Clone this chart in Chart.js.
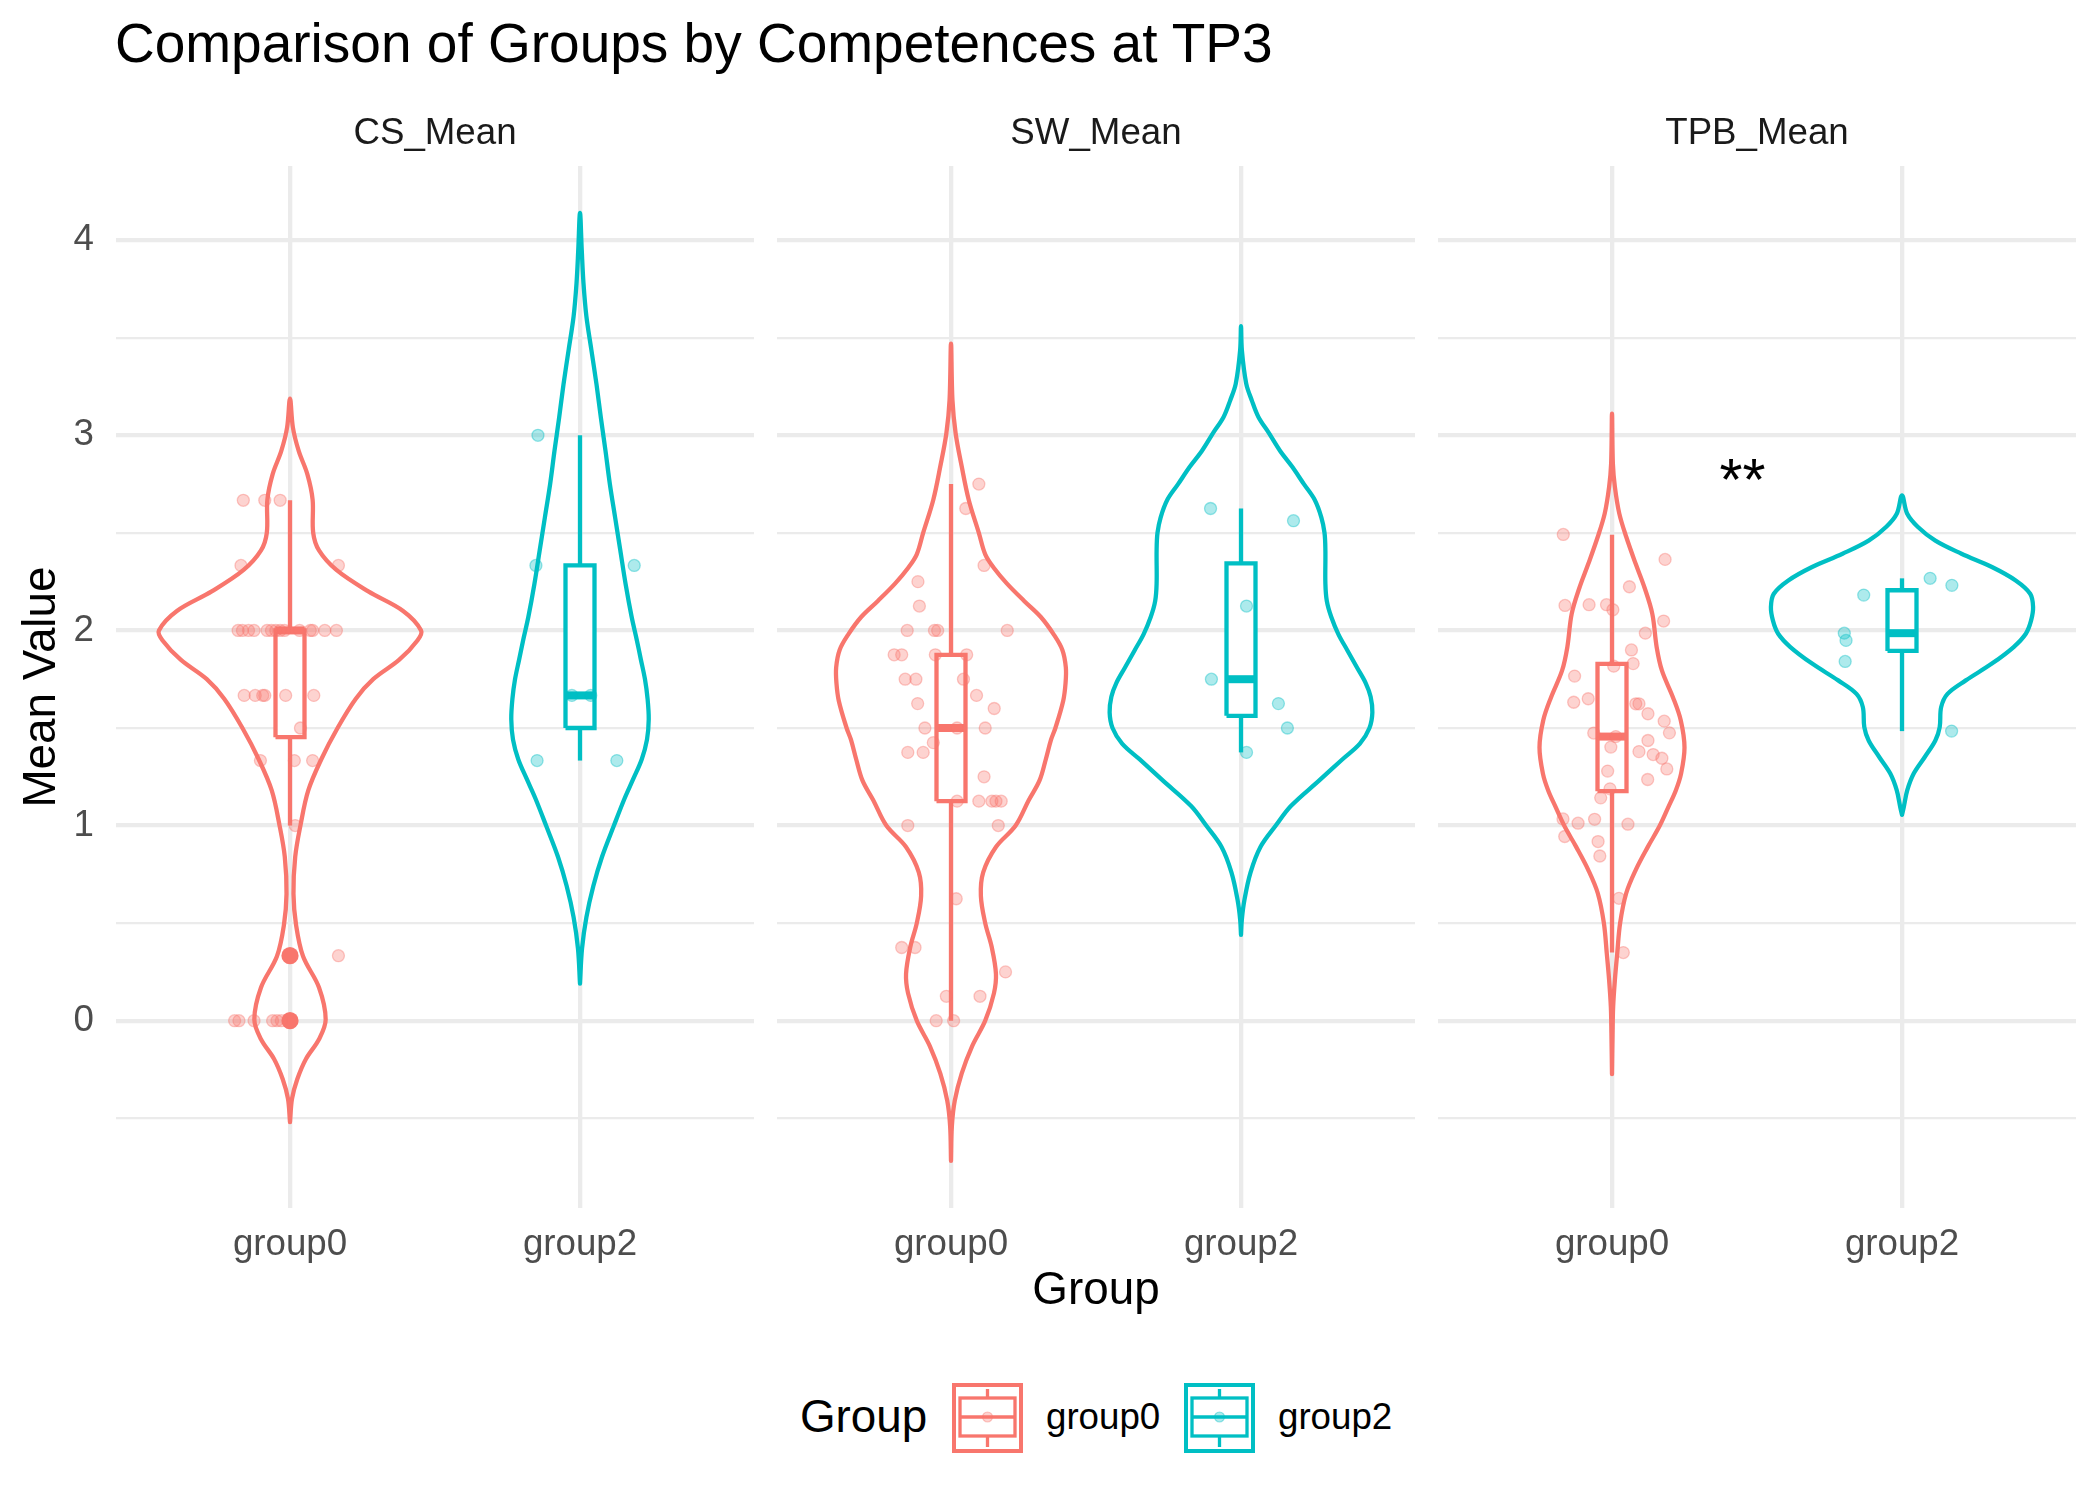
<!DOCTYPE html>
<html>
<head>
<meta charset="utf-8">
<script src="https://cdn.jsdelivr.net/npm/chart.js@4/dist/chart.umd.min.js"></script>
<style>
html, body { margin: 0; padding: 0; background: #ffffff; }
body { width: 2100px; height: 1500px; position: relative; overflow: hidden; font-family: "Liberation Sans", Arial, Helvetica, sans-serif; }
.t { position: absolute; white-space: nowrap; line-height: 1; margin: 0; }
canvas { position: absolute; top: 0; }
</style>
</head>
<body>
<div class="t" style="left:115px; top:16px; font-size:55px; color:#000;">Comparison of Groups by Competences at TP3</div>
<canvas id="c1" width="766" height="1340" style="left:0px; width:766px; height:1340px;"></canvas>
<canvas id="c2" width="661" height="1340" style="left:766px; width:661px; height:1340px;"></canvas>
<canvas id="c3" width="673" height="1340" style="left:1427px; width:673px; height:1340px;"></canvas>
<div class="t" id="xtitle" style="left:1096px; top:1266px; font-size:45.8px; color:#000; transform:translateX(-50%);">Group</div>
<div class="t" style="left:800px; top:1394px; font-size:45.8px; color:#000;">Group</div>
<canvas id="k0" width="71" height="71" style="left:952px; top:1383px; width:71px; height:71px;"></canvas>
<div class="t" style="left:1046px; top:1399px; font-size:36.7px; color:#000;">group0</div>
<canvas id="k1" width="71" height="71" style="left:1184px; top:1383px; width:71px; height:71px;"></canvas>
<div class="t" style="left:1278px; top:1399px; font-size:36.7px; color:#000;">group2</div>
<script>
// ---------------- data ----------------
const groups = ['group0', 'group2'];
const facets = ['CS_Mean', 'SW_Mean', 'TPB_Mean'];
const yMajorTicks = [0, 1, 2, 3, 4];
const yMinorTicks = [-0.5, 0.5, 1.5, 2.5, 3.5];

// violin outlines: y levels and half-widths (category units)
const csG0ViolinY = [-0.52,-0.40,-0.30,-0.196,-0.095,0.006,0.17,0.33,0.49,0.65,0.84,1.0,1.18,1.34,1.5,1.65,1.75,1.85,1.95,2.0,2.10,2.2,2.31,2.41,2.5,2.67,2.80,2.92,3.04,3.188];
const csG0ViolinW = [0,0.007,0.025,0.055,0.10,0.123,0.10,0.045,0.021,0.012,0.018,0.036,0.063,0.108,0.164,0.227,0.287,0.377,0.44,0.452,0.39,0.27,0.16,0.10,0.08,0.078,0.06,0.03,0.01,0];
const csG2ViolinY = [0.19,0.37,0.53,0.69,0.84,1.0,1.14,1.24,1.34,1.44,1.545,1.65,1.75,1.85,1.95,2.07,2.24,2.41,2.58,2.75,2.92,3.09,3.26,3.44,3.61,3.78,3.95,4.14];
const csG2ViolinW = [0,0.007,0.022,0.046,0.076,0.117,0.154,0.184,0.213,0.231,0.237,0.233,0.224,0.21,0.196,0.178,0.157,0.139,0.121,0.103,0.088,0.072,0.057,0.039,0.022,0.012,0.006,0];
const swG0ViolinY = [-0.718,-0.54,-0.41,-0.27,-0.13,0.0,0.14,0.24,0.38,0.5,0.64,0.76,0.89,1.0,1.13,1.23,1.34,1.44,1.5,1.64,1.73,1.81,1.90,1.98,2.07,2.15,2.24,2.32,2.39,2.50,2.67,2.84,3.01,3.18,3.47];
const swG0ViolinW = [0,0.003,0.013,0.037,0.073,0.118,0.148,0.155,0.14,0.118,0.103,0.111,0.155,0.223,0.268,0.305,0.327,0.345,0.36,0.387,0.395,0.396,0.384,0.354,0.309,0.253,0.193,0.148,0.118,0.096,0.061,0.037,0.016,0.005,0];
const swG2ViolinY = [0.44,0.52,0.62,0.76,0.89,1.0,1.10,1.23,1.34,1.42,1.50,1.58,1.66,1.73,1.81,1.90,1.98,2.07,2.15,2.24,2.41,2.50,2.58,2.67,2.75,2.84,2.92,3.01,3.094,3.18,3.265,3.436,3.559];
const swG2ViolinW = [0,0.003,0.012,0.033,0.067,0.12,0.172,0.269,0.35,0.41,0.443,0.453,0.447,0.43,0.40,0.366,0.336,0.311,0.296,0.291,0.291,0.288,0.277,0.254,0.217,0.176,0.135,0.097,0.06,0.037,0.018,0.003,0];
const tpbG0ViolinY = [-0.274,-0.065,0.072,0.209,0.345,0.50,0.653,0.773,0.892,1.0,1.097,1.18,1.265,1.40,1.54,1.658,1.795,1.915,2.085,2.22,2.34,2.48,2.60,2.735,2.855,3.111];
const tpbG0ViolinW = [0,0.002,0.004,0.01,0.018,0.028,0.049,0.082,0.124,0.165,0.195,0.22,0.238,0.25,0.237,0.21,0.172,0.154,0.139,0.112,0.082,0.049,0.025,0.01,0.003,0];
const tpbG2ViolinY = [1.055,1.094,1.18,1.265,1.35,1.436,1.504,1.607,1.675,1.744,1.83,1.915,1.983,2.05,2.12,2.188,2.256,2.325,2.393,2.46,2.53,2.598,2.692];
const tpbG2ViolinW = [0,0.006,0.018,0.04,0.078,0.115,0.13,0.135,0.157,0.22,0.31,0.385,0.427,0.445,0.452,0.442,0.392,0.31,0.205,0.115,0.055,0.018,0];

// boxplot stats: [lower whisker, Q1, median, Q3, upper whisker]
const csG0Box = [1.0, 1.453, 2.0, 2.0, 2.667];
const csG2Box = [1.333, 1.5, 1.667, 2.333, 3.0];
const swG0Box = [0, 1.125, 1.5, 1.875, 2.75];
const swG2Box = [1.375, 1.5625, 1.75, 2.344, 2.625];
const tpbG0Box = [0.349, 1.176, 1.456, 1.829, 2.49];
const tpbG2Box = [1.484, 1.895, 1.986, 2.206, 2.267];
const csG0Outliers = [0, 0.333];

// individual observations and their horizontal jitter (category units)
const csG0Vals = [2.667,2.667,2.667,2.333,2.333,2,2,2,2,2,2,2,2,2,2,2,2,2,2,1.667,1.667,1.667,1.667,1.667,1.667,1.5,1.333,1.333,1.333,1.0,0.333,0,0,0,0,0,0];
const csG0Jit  = [-0.161,-0.087,-0.034,-0.169,0.167,-0.179,-0.164,-0.143,-0.124,-0.079,-0.064,-0.049,-0.034,-0.019,0.033,0.070,0.078,0.120,0.160,-0.158,-0.120,-0.094,-0.087,-0.015,0.082,0.036,-0.102,0.015,0.078,0.018,0.167,-0.191,-0.176,-0.124,-0.060,-0.045,-0.030];
const csG2Vals = [3, 2.333, 2.333, 1.667, 1.667, 1.333, 1.333];
const csG2Jit  = [-0.145, -0.152, 0.187, -0.028, 0.037, -0.148, 0.127];
const swG0Vals = [2.75,2.625,2.333,2.25,2.125,2,2,2,2,1.875,1.875,1.875,1.875,1.75,1.75,1.75,1.667,1.6,1.625,1.5,1.5,1.5,1.425,1.375,1.375,1.25,1.125,1.125,1.125,1.125,1.125,1,1,0.625,0.375,0.375,0.25,0.125,0.125,0,0];
const swG0Jit  = [0.096,0.051,0.114,-0.114,-0.109,-0.151,-0.057,-0.046,0.194,-0.196,-0.170,-0.054,0.054,-0.158,-0.121,0.043,0.088,0.149,-0.115,-0.09,0.021,0.118,-0.061,-0.149,-0.096,0.114,0.021,0.096,0.141,0.155,0.173,-0.149,0.163,0.018,-0.170,-0.124,0.188,-0.016,0.100,-0.051,0.009];
const swG2Vals = [2.625, 2.5625, 2.125, 1.75, 1.625, 1.5, 1.375];
const swG2Jit  = [-0.105, 0.181, 0.019, -0.102, 0.129, 0.16, 0.019];
const tpbG0Vals = [2.492,2.364,2.224,2.128,2.132,2.132,2.106,2.048,1.986,1.90,1.83,1.817,1.766,1.632,1.65,1.624,1.624,1.573,1.535,1.475,1.474,1.456,1.436,1.402,1.379,1.364,1.345,1.29,1.279,1.236,1.188,1.142,1.034,1.012,1.032,1.007,0.944,0.918,0.844,0.627,0.349];
const tpbG0Jit  = [-0.168,0.183,0.06,-0.162,-0.079,-0.019,0.003,0.178,0.115,0.067,0.073,0.006,-0.129,-0.132,-0.082,0.082,0.093,0.124,0.18,0.198,-0.063,0.013,0.124,-0.004,0.093,0.142,0.172,0.189,-0.015,0.123,-0.007,-0.039,-0.169,-0.117,-0.06,0.055,-0.163,-0.048,-0.042,0.024,0.039];
const tpbG2Vals = [2.267, 2.231, 2.181, 1.986, 1.949, 1.841, 1.484];
const tpbG2Jit  = [0.097, 0.172, -0.132, -0.199, -0.193, -0.196, 0.171];

// significance annotation (TPB panel)
const sigLabel = '**';
const sigX = 1.45;
const sigY = 2.67;

// ---------------- styling ----------------
const FONT = '"Liberation Sans", Arial, Helvetica, sans-serif';
Chart.defaults.font.family = FONT;
const lineCols = ['#F8766D', '#00BFC4'];
const lightCols = ['rgba(248,118,109,0.32)', 'rgba(0,191,196,0.32)'];
const ringCols = ['rgba(248,118,109,0.40)', 'rgba(0,191,196,0.40)'];
const LW = 4.3;
const BOX_HALF = 0.05;

const panels = [
  { name: facets[0], g: [
      { vy: csG0ViolinY, vw: csG0ViolinW, box: csG0Box, vals: csG0Vals, jit: csG0Jit, out: csG0Outliers },
      { vy: csG2ViolinY, vw: csG2ViolinW, box: csG2Box, vals: csG2Vals, jit: csG2Jit, out: [] } ] },
  { name: facets[1], g: [
      { vy: swG0ViolinY, vw: swG0ViolinW, box: swG0Box, vals: swG0Vals, jit: swG0Jit, out: [] },
      { vy: swG2ViolinY, vw: swG2ViolinW, box: swG2Box, vals: swG2Vals, jit: swG2Jit, out: [] } ] },
  { name: facets[2], g: [
      { vy: tpbG0ViolinY, vw: tpbG0ViolinW, box: tpbG0Box, vals: tpbG0Vals, jit: tpbG0Jit, out: [] },
      { vy: tpbG2ViolinY, vw: tpbG2ViolinW, box: tpbG2Box, vals: tpbG2Vals, jit: tpbG2Jit, out: [] } ] }
];

function violinPath(c, ys, ws) {
  const right = ys.map((y, i) => ({ x: c + ws[i], y: y }));
  const left = ys.map((y, i) => ({ x: c - ws[i], y: y })).reverse().slice(1);
  return right.concat(left);
}

function buildDatasets(panel) {
  const ds = [];
  panel.g.forEach((g, gi) => {
    const c = gi + 1, col = lineCols[gi], s = g.box;
    const lineBase = { showLine: true, pointRadius: 0, borderColor: col, borderWidth: LW, fill: false, tension: 0 };
    ds.push(Object.assign({}, lineBase, { data: violinPath(c, g.vy, g.vw), tension: 0.35, borderJoinStyle: 'round', borderCapStyle: 'round', order: 9 }));
    ds.push(Object.assign({}, lineBase, { data: [{ x: c, y: s[0] }, { x: c, y: s[1] }], borderCapStyle: 'butt', order: 8 }));
    ds.push(Object.assign({}, lineBase, { data: [{ x: c, y: s[3] }, { x: c, y: s[4] }], borderCapStyle: 'butt', order: 8 }));
    ds.push(Object.assign({}, lineBase, {
      data: [{ x: c - BOX_HALF, y: s[1] }, { x: c + BOX_HALF, y: s[1] }, { x: c + BOX_HALF, y: s[3] }, { x: c - BOX_HALF, y: s[3] }, { x: c - BOX_HALF, y: s[1] }],
      fill: 'shape', backgroundColor: '#ffffff', borderJoinStyle: 'miter', order: 7 }));
    ds.push(Object.assign({}, lineBase, { data: [{ x: c - BOX_HALF, y: s[2] }, { x: c + BOX_HALF, y: s[2] }], borderWidth: 8, borderCapStyle: 'butt', order: 6 }));
    if (g.out.length) {
      ds.push({ data: g.out.map(v => ({ x: c, y: v })), showLine: false, pointRadius: 8.6, pointHoverRadius: 8.6, backgroundColor: col, borderWidth: 0, order: 5 });
    }
    ds.push({ data: g.vals.map((v, i) => ({ x: c + g.jit[i], y: v })), showLine: false, pointRadius: 6, pointHoverRadius: 6,
      backgroundColor: lightCols[gi], borderColor: ringCols[gi], borderWidth: 1.3, order: 4 });
  });
  return ds;
}

const sigPlugin = {
  id: 'sigText',
  afterDatasetsDraw(chart) {
    if (!chart.options.plugins.sigText || !chart.options.plugins.sigText.show) return;
    const { ctx, scales } = chart;
    ctx.save();
    ctx.font = '59px ' + FONT;
    ctx.fillStyle = '#000';
    ctx.textAlign = 'center';
    ctx.textBaseline = 'alphabetic';
    ctx.fillText(sigLabel, scales.x.getPixelForValue(sigX), scales.y.getPixelForValue(sigY));
    ctx.restore();
  }
};

function makeChart(id, idx) {
  const first = idx === 0;
  const padLeft = first ? 0 : 11;
  const padRight = idx === 2 ? 24 : 12;
  new Chart(document.getElementById(id), {
    type: 'scatter',
    data: { datasets: buildDatasets(panels[idx]) },
    options: {
      responsive: false,
      animation: false,
      events: [],
      devicePixelRatio: 1,
      layout: { padding: { top: 109, left: padLeft, right: padRight, bottom: 0 } },
      plugins: {
        legend: { display: false },
        tooltip: { enabled: false },
        title: { display: true, text: panels[idx].name, fullSize: false, color: '#1A1A1A',
                 font: { size: 36.7, weight: 'normal', family: FONT, lineHeight: 1.2 }, padding: { top: 3, bottom: 10 } },
        sigText: { show: idx === 2 }
      },
      scales: {
        x: {
          type: 'linear', min: 0.4, max: 2.6,
          afterBuildTicks: s => { s.ticks = [1, 2].map(v => ({ value: v })); },
          afterFit: s => { s.height = 132; },
          ticks: { callback: v => groups[Math.round(v) - 1], color: '#4D4D4D', font: { size: 36.7, family: FONT }, padding: 15, autoSkip: false, maxRotation: 0, minRotation: 0 },
          grid: { color: '#EBEBEB', lineWidth: LW, drawTicks: false },
          border: { display: false }
        },
        y: {
          type: 'linear', min: -0.96, max: 4.38,
          afterBuildTicks: s => { s.ticks = yMinorTicks.concat(yMajorTicks).sort((a, b) => a - b).map(v => ({ value: v })); },
          afterFit: s => { s.width = first ? 116 : 0; },
          ticks: { display: first, callback: v => (yMajorTicks.includes(v) ? String(v) : ''), color: '#4D4D4D', font: { size: 36.7, family: FONT }, padding: 22, autoSkip: false },
          grid: { color: '#EBEBEB', lineWidth: ctx => (ctx.tick && yMajorTicks.includes(ctx.tick.value) ? LW : LW / 2), drawTicks: false },
          border: { display: false },
          title: { display: first, text: 'Mean Value', color: '#000', font: { size: 45.8, family: FONT, lineHeight: 1.2 }, padding: { top: 15, bottom: 0 } }
        }
      }
    },
    plugins: [sigPlugin]
  });
}

makeChart('c1', 0);
makeChart('c2', 1);
makeChart('c3', 2);

// legend keys (violin outline + boxplot glyph + point)
function drawKey(id, gi) {
  const g = document.getElementById(id).getContext('2d');
  const col = lineCols[gi];
  g.strokeStyle = col; g.lineWidth = 4;
  g.strokeRect(2, 2, 67, 66);
  g.lineWidth = 3.3;
  g.beginPath(); g.moveTo(35.5, 6); g.lineTo(35.5, 15); g.moveTo(35.5, 53); g.lineTo(35.5, 64); g.stroke();
  g.strokeRect(8, 15, 55, 38);
  g.beginPath(); g.moveTo(8, 34); g.lineTo(63, 34); g.stroke();
  g.fillStyle = lightCols[gi]; g.strokeStyle = ringCols[gi]; g.lineWidth = 1.2;
  g.beginPath(); g.arc(35.5, 34, 5, 0, Math.PI * 2); g.fill(); g.stroke();
}
drawKey('k0', 0);
drawKey('k1', 1);
</script>
</body>
</html>
